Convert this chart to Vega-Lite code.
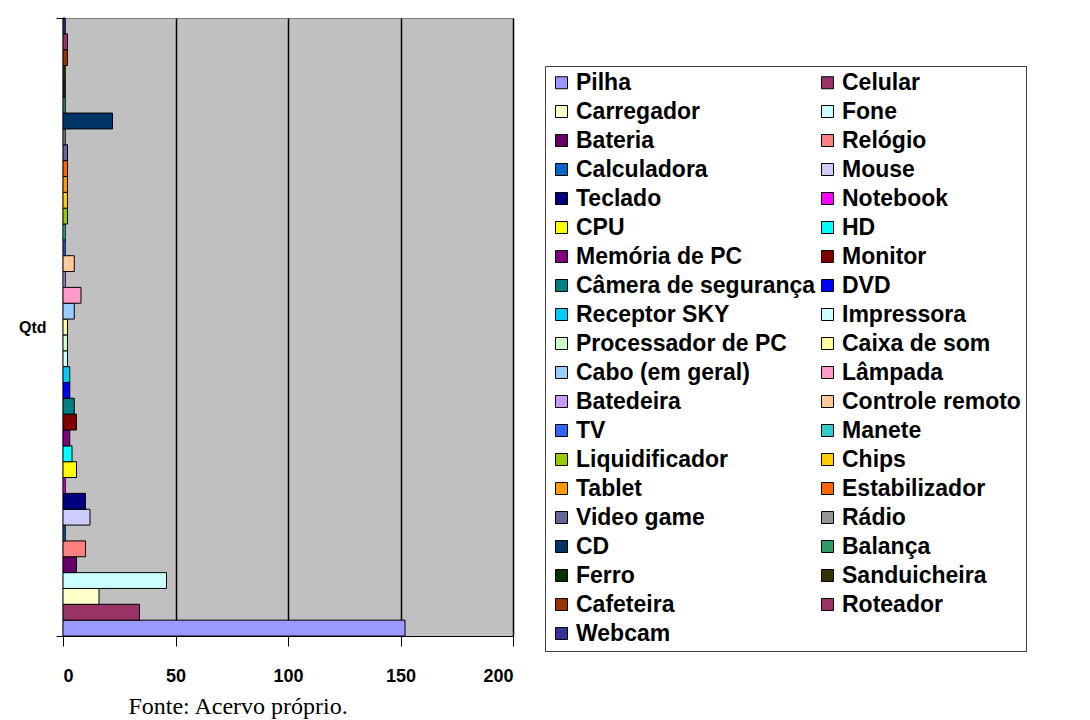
{
  "$schema": "https://vega.github.io/schema/vega-lite/v6.json",
  "autosize": {"type": "none"},
  "padding": {"left": 63, "top": 18, "right": 577, "bottom": 84},
  "width": 450,
  "height": 618,
  "background": "white",
  "view": {"fill": "#C0C0C0", "stroke": "#808080", "strokeWidth": 1},
  "title": {
    "text": "Fonte: Acervo próprio.",
    "orient": "bottom",
    "anchor": "start",
    "dx": 110,
    "offset": 10,
    "font": "Liberation Serif",
    "fontSize": 24,
    "fontWeight": "normal",
    "color": "black"
  },
  "data": {
    "values": [
      {"cat": "Qtd", "item": "Pilha", "qtd": 152},
      {"cat": "Qtd", "item": "Celular", "qtd": 34},
      {"cat": "Qtd", "item": "Carregador", "qtd": 16},
      {"cat": "Qtd", "item": "Fone", "qtd": 46},
      {"cat": "Qtd", "item": "Bateria", "qtd": 6},
      {"cat": "Qtd", "item": "Relógio", "qtd": 10},
      {"cat": "Qtd", "item": "Calculadora", "qtd": 1},
      {"cat": "Qtd", "item": "Mouse", "qtd": 12},
      {"cat": "Qtd", "item": "Teclado", "qtd": 10},
      {"cat": "Qtd", "item": "Notebook", "qtd": 1},
      {"cat": "Qtd", "item": "CPU", "qtd": 6},
      {"cat": "Qtd", "item": "HD", "qtd": 4},
      {"cat": "Qtd", "item": "Memória de PC", "qtd": 3},
      {"cat": "Qtd", "item": "Monitor", "qtd": 6},
      {"cat": "Qtd", "item": "Câmera de segurança", "qtd": 5},
      {"cat": "Qtd", "item": "DVD", "qtd": 3},
      {"cat": "Qtd", "item": "Receptor SKY", "qtd": 3},
      {"cat": "Qtd", "item": "Impressora", "qtd": 2},
      {"cat": "Qtd", "item": "Processador de PC", "qtd": 2},
      {"cat": "Qtd", "item": "Caixa de som", "qtd": 2},
      {"cat": "Qtd", "item": "Cabo (em geral)", "qtd": 5},
      {"cat": "Qtd", "item": "Lâmpada", "qtd": 8},
      {"cat": "Qtd", "item": "Batedeira", "qtd": 1},
      {"cat": "Qtd", "item": "Controle remoto", "qtd": 5},
      {"cat": "Qtd", "item": "TV", "qtd": 1},
      {"cat": "Qtd", "item": "Manete", "qtd": 1},
      {"cat": "Qtd", "item": "Liquidificador", "qtd": 2},
      {"cat": "Qtd", "item": "Chips", "qtd": 2},
      {"cat": "Qtd", "item": "Tablet", "qtd": 2},
      {"cat": "Qtd", "item": "Estabilizador", "qtd": 2},
      {"cat": "Qtd", "item": "Video game", "qtd": 2},
      {"cat": "Qtd", "item": "Rádio", "qtd": 1},
      {"cat": "Qtd", "item": "CD", "qtd": 22},
      {"cat": "Qtd", "item": "Balança", "qtd": 1},
      {"cat": "Qtd", "item": "Ferro", "qtd": 1},
      {"cat": "Qtd", "item": "Sanduicheira", "qtd": 1},
      {"cat": "Qtd", "item": "Cafeteira", "qtd": 2},
      {"cat": "Qtd", "item": "Roteador", "qtd": 2},
      {"cat": "Qtd", "item": "Webcam", "qtd": 1}
    ]
  },
  "mark": {"type": "bar", "stroke": "black", "strokeWidth": 1},
  "encoding": {
    "y": {
      "field": "cat",
      "type": "nominal",
      "scale": {"paddingInner": 0, "paddingOuter": 0},
      "axis": {
        "title": null,
        "labelFont": "Liberation Sans",
        "labelFontWeight": "bold",
        "labelFontSize": 16,
        "labelColor": "black",
        "labelPadding": 10,
        "labelAngle": 0,
        "domainColor": "black",
        "domainWidth": 1,
        "tickColor": "black",
        "tickSize": 7,
        "tickBand": "extent"
      }
    },
    "yOffset": {
      "field": "item",
      "type": "nominal",
      "sort": null,
      "scale": {"paddingInner": 0, "paddingOuter": 0, "reverse": true}
    },
    "x": {
      "field": "qtd",
      "type": "quantitative",
      "scale": {"domain": [0, 200], "nice": false},
      "axis": {
        "title": null,
        "values": [0, 50, 100, 150, 200],
        "grid": true,
        "gridColor": "black",
        "gridWidth": 1.5,
        "gridOpacity": 1,
        "domainColor": "black",
        "domainWidth": 1,
        "tickColor": "black",
        "tickSize": 10,
        "labelFont": "Liberation Sans",
        "labelFontWeight": "bold",
        "labelFontSize": 18,
        "labelColor": "black",
        "labelPadding": 21
      }
    },
    "color": {
      "field": "item",
      "type": "nominal",
      "scale": {
        "domain": ["Pilha", "Celular", "Carregador", "Fone", "Bateria", "Relógio", "Calculadora", "Mouse", "Teclado", "Notebook", "CPU", "HD", "Memória de PC", "Monitor", "Câmera de segurança", "DVD", "Receptor SKY", "Impressora", "Processador de PC", "Caixa de som", "Cabo (em geral)", "Lâmpada", "Batedeira", "Controle remoto", "TV", "Manete", "Liquidificador", "Chips", "Tablet", "Estabilizador", "Video game", "Rádio", "CD", "Balança", "Ferro", "Sanduicheira", "Cafeteira", "Roteador", "Webcam"],
        "range": ["#9999FF", "#993366", "#FFFFCC", "#CCFFFF", "#660066", "#FF8080", "#0066CC", "#CCCCFF", "#000080", "#FF00FF", "#FFFF00", "#00FFFF", "#800080", "#800000", "#008080", "#0000FF", "#00CCFF", "#CCFFFF", "#CCFFCC", "#FFFF99", "#99CCFF", "#FF99CC", "#CC99FF", "#FFCC99", "#3366FF", "#33CCCC", "#99CC00", "#FFCC00", "#FF9900", "#FF6600", "#666699", "#969696", "#003366", "#339966", "#003300", "#333300", "#993300", "#993366", "#333399"]
      },
      "legend": {
        "title": null,
        "orient": "none",
        "direction": "horizontal",
        "legendX": 482,
        "legendY": 48,
        "columns": 2,
        "columnPadding": 0,
        "rowPadding": 5,
        "padding": 5,
        "symbolLimit": 0,
        "fillColor": "white",
        "strokeColor": "#404040",
        "symbolType": "square",
        "symbolSize": 144,
        "symbolStrokeColor": "black",
        "symbolStrokeWidth": 1,
        "symbolOpacity": 1,
        "symbolOffset": 0,
        "labelFont": "Liberation Sans",
        "labelFontWeight": "bold",
        "labelFontSize": 23,
        "labelColor": "black",
        "labelOffset": 3,
        "labelLimit": 400
      }
    }
  }
}
